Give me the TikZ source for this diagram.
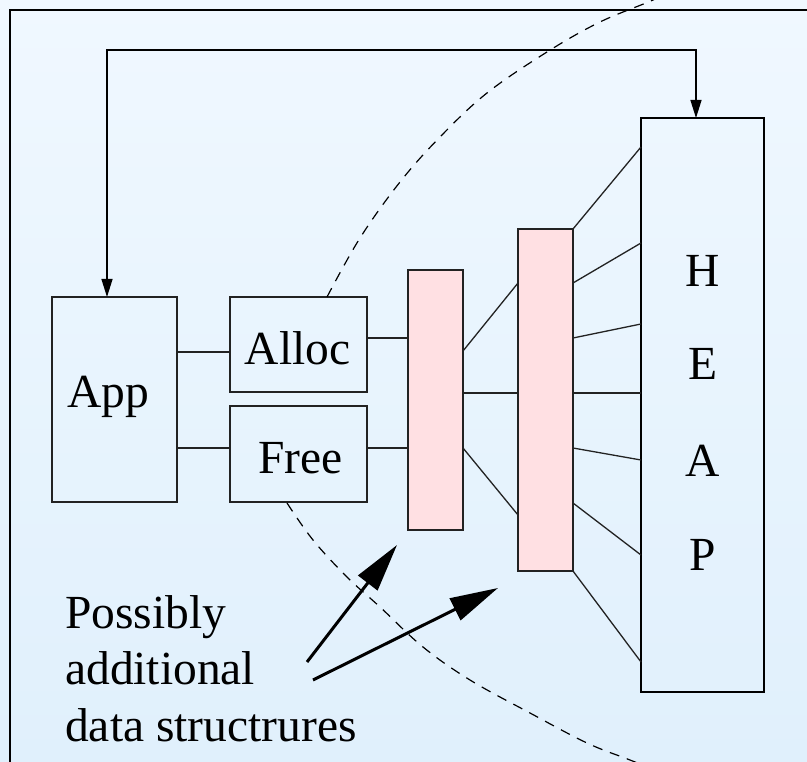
\documentclass[tikz,border=0pt]{standalone}
\usepackage{fontspec}
\setmainfont{Liberation Serif}
\usetikzlibrary{arrows.meta}
\definecolor{bgtop}{HTML}{F0F8FF}
\definecolor{bgbot}{HTML}{E0F0FC}
\definecolor{pinkfill}{HTML}{FFE0E3}
\definecolor{edge}{HTML}{222222}
\begin{document}
\begin{tikzpicture}[x=1pt,y=-1pt,
  box/.style={draw=edge,line width=1.3pt,inner sep=0pt,outer sep=0pt},
  dsbox/.style={box,fill=pinkfill},
  heapbox/.style={draw=black,line width=2.6pt,inner sep=0pt,outer sep=0pt},
  lbl/.style={font=\fontsize{47.5}{57}\selectfont,inner sep=0pt,anchor=base},
  lblw/.style={lbl,anchor=base west},
  wire/.style={draw=edge,line width=1.3pt},
  dashcurve/.style={draw=black,line width=1.2pt,dash pattern=on 10pt off 8pt},
  bigarrow/.style={draw=black,line width=3pt,-{Triangle[length=48pt,width=24pt]}},
  link/.style={draw=black,line width=1.3pt,{Triangle[length=18pt,width=11pt]}-{Triangle[length=18pt,width=11pt]}}
]
\useasboundingbox (0,0) rectangle (807,762);
\clip (0,0) rectangle (807,762);
\shade[top color=bgtop,bottom color=bgbot] (0,0) rectangle (807,762);
\draw[line width=1.6pt] (830,10) -- (10,10) -- (10,790);

% boxes
\node[box,minimum width=125pt,minimum height=205pt] (app) at (114.5,399.5) {};
\node[box,minimum width=137pt,minimum height=95pt] (alloc) at (298.5,344.5) {};
\node[box,minimum width=137pt,minimum height=96pt] (free) at (298.5,454) {};
\node[dsbox,minimum width=55pt,minimum height=260pt] (ds1) at (435.5,400) {};
\node[dsbox,minimum width=55pt,minimum height=342pt] (ds2) at (545.5,400) {};
\node[heapbox,minimum width=123pt,minimum height=574pt] (heap) at (702.5,405) {};

% labels
\node[lbl] (appt) at (108,407) {App};
\node[lbl] (alloct) at (297.5,365) {Alloc};
\node[lbl] (freet) at (300.5,473) {Free};
\node[lbl] (hH) at (703,287) {H};
\node[lbl] (hE) at (703,380) {E};
\node[lbl] (hA) at (703,476) {A};
\node[lbl] (hP) at (703,570) {P};
\node[lblw] (t1) at (65,628) {Possibly};
\node[lblw] (t2) at (65,684) {additional};
\node[lblw] (t3) at (65,741) {data structrures};

% top bidirectional link
\coordinate (tl) at (107,50);
\coordinate (tr) at (696,50);
\draw[link] (app.north -| tl) -- (tl) -- (tr) -- (heap.north -| tr);

% app to alloc/free
\draw[wire] (app.east |- 0,352) -- (alloc.west |- 0,352);
\draw[wire] (app.east |- 0,448) -- (free.west |- 0,448);
% alloc/free to ds1
\draw[wire] (alloc.east |- 0,338) -- (ds1.west |- 0,338);
\draw[wire] (free.east |- 0,448) -- (ds1.west |- 0,448);
% ds1 to ds2
\draw[wire] (ds1.east |- 0,351) -- (ds2.west |- 0,283);
\draw[wire] (ds1.east |- 0,393) -- (ds2.west |- 0,393);
\draw[wire] (ds1.east |- 0,448) -- (ds2.west |- 0,515);
% ds2 to heap
\draw[wire] (ds2.north east) -- (heap.west |- 0,147);
\draw[wire] (ds2.east |- 0,283) -- (heap.west |- 0,243);
\draw[wire] (ds2.east |- 0,338) -- (heap.west |- 0,324);
\draw[wire] (ds2.east |- 0,393) -- (heap.west |- 0,393);
\draw[wire] (ds2.east |- 0,448) -- (heap.west |- 0,460);
\draw[wire] (ds2.east |- 0,503) -- (heap.west |- 0,555);
\draw[wire] (ds2.south east) -- (heap.west |- 0,662);

% dashed arcs
\draw[dashcurve] plot[smooth,tension=0.6] coordinates {(327,297) (360,238) (400,182) (440,137) (487,93) (547,52) (600,22) (653,0) (690,-18)};
\draw[dashcurve] plot[smooth,tension=0.6] coordinates {(287,503) (313,540) (347,577) (380,607) (423,647) (470,680) (530,713) (587,743) (630,760) (670,776)};

% big arrows
\coordinate (a1s) at (307,662);
\coordinate (a1e) at (397,545);
\coordinate (a2s) at (313,680);
\coordinate (a2e) at (498,588);
\draw[bigarrow] (a1s) -- (a1e);
\draw[bigarrow] (a2s) -- (a2e);
\end{tikzpicture}
\end{document}
